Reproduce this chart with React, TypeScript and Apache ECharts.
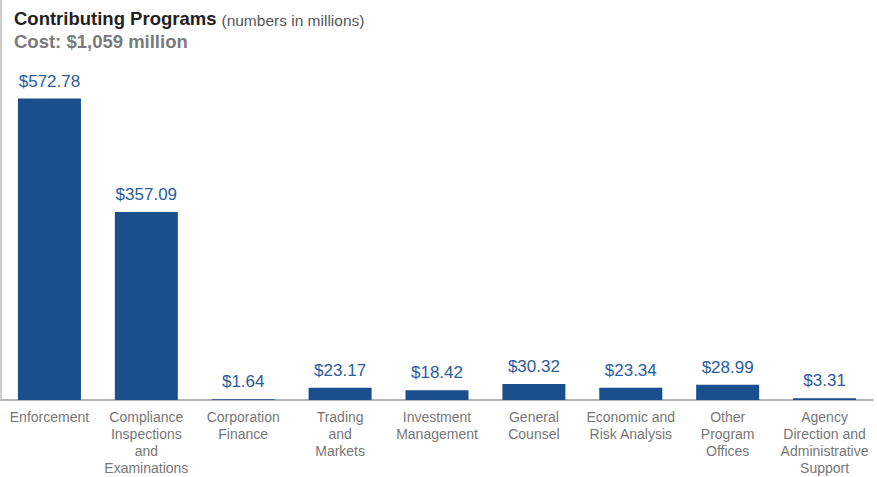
import React, { useEffect, useRef } from "react";
import * as echarts from "echarts";

const categories = [
  "Enforcement",
  "Compliance\nInspections\nand\nExaminations",
  "Corporation\nFinance",
  "Trading\nand\nMarkets",
  "Investment\nManagement",
  "General\nCounsel",
  "Economic and\nRisk Analysis",
  "Other\nProgram\nOffices",
  "Agency\nDirection and\nAdministrative\nSupport",
];
const values = [572.78, 357.09, 1.64, 23.17, 18.42, 30.32, 23.34, 28.99, 3.31];
const titleMain = "Contributing Programs";
const titleNote = "(numbers in millions)";
const subtitle = "Cost: $1,059 million";

const SANS = "'Liberation Sans', Arial, Helvetica, sans-serif";

export default function App() {
  const ref = useRef<HTMLDivElement>(null);
  useEffect(() => {
    if (!ref.current) return;
    const chart = echarts.init(ref.current, undefined, { renderer: "svg" });
    chart.setOption({
      animation: false,
      backgroundColor: "#ffffff",
      title: {
        left: 14,
        top: 6,
        padding: 0,
        text: `{a|${titleMain}} {b|${titleNote}}`,
        textStyle: {
          rich: {
            a: { fontFamily: SANS, fontSize: 18.5, fontWeight: "bold", color: "#222222", lineHeight: 22, verticalAlign: "bottom" },
            b: { fontFamily: SANS, fontSize: 15.5, fontWeight: "normal", color: "#555555", lineHeight: 22, verticalAlign: "bottom" },
          },
        },
        subtext: subtitle,
        subtextStyle: { fontFamily: SANS, fontSize: 18.5, fontWeight: "bold", color: "#7a7a7a", lineHeight: 22 },
        itemGap: 4,
      },
      grid: { left: 1, right: 4, top: 0, bottom: 77, containLabel: false },
      xAxis: {
        type: "category",
        data: categories,
        axisLine: { show: true, lineStyle: { color: "#b5b5b5", width: 2 } },
        axisTick: { show: false },
        axisLabel: {
          interval: 0,
          margin: 8,
          color: "#777777",
          fontFamily: SANS,
          fontSize: 14,
          lineHeight: 17,
        },
      },
      yAxis: {
        type: "value",
        min: 0,
        max: 760,
        axisLine: { show: true, lineStyle: { color: "#bdbdbd", width: 1.5 } },
        axisTick: { show: false },
        axisLabel: { show: false },
        splitLine: { show: false },
      },
      series: [
        {
          type: "bar",
          data: values,
          barWidth: 63,
          itemStyle: { color: "#1a4e8d" },
          label: {
            show: true,
            position: "top",
            distance: 9,
            color: "#2b5c9e",
            fontFamily: SANS,
            fontSize: 17,
            formatter: (p: any) => "$" + p.value.toFixed(2),
          },
        },
      ],
    });
    return () => chart.dispose();
  }, []);
  return (
    <div
      ref={ref}
      style={{ position: "fixed", left: 0, top: 0, width: 877, height: 477 }}
    />
  );
}
